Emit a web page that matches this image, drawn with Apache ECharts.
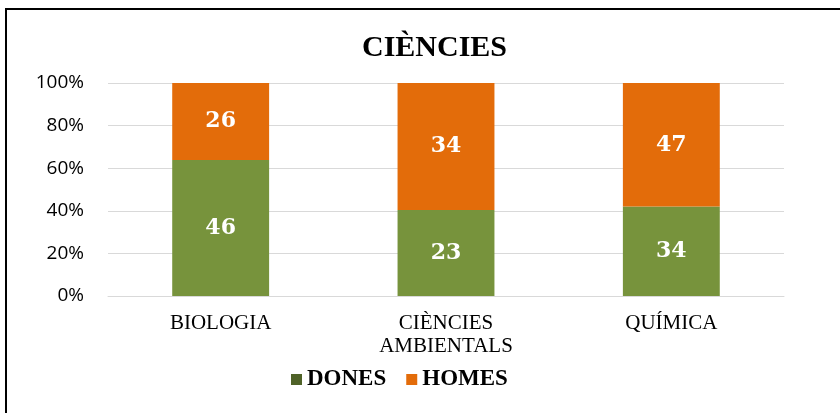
<!DOCTYPE html>
<html>
<head>
<meta charset="utf-8">
<script src="https://cdn.jsdelivr.net/npm/echarts@6/dist/echarts.min.js"></script>
<style>
  html, body { margin: 0; padding: 0; background: #fff; }
  #chart { width: 840px; height: 413px; }
  #frame { position: absolute; left: 5px; top: 8px; width: 900px; height: 500px;
           border: 2px solid #000; pointer-events: none; }
</style>
</head>
<body>
<div id="chart"></div>
<div id="frame"></div>
<script>
  // dades
  var categories = ['BIOLOGIA', 'CIÈNCIES\nAMBIENTALS', 'QUÍMICA'];
  var dones = [46, 23, 34];
  var homes = [26, 34, 47];
  var yTicks = [0, 20, 40, 60, 80, 100];

  // percentatges per a la barra apilada al 100%
  function pct(a, b) {
    var out = [];
    for (var i = 0; i < a.length; i++) {
      out.push({ value: a[i] / (a[i] + b[i]) * 100, count: a[i] });
    }
    return out;
  }

  var serif = '"Liberation Serif", "DejaVu Serif", serif';
  var labelStyle = {
    show: true,
    position: 'inside',
    color: '#fff',
    fontFamily: '"DejaVu Serif", serif',
    fontWeight: 'bold',
    fontSize: 22,
    formatter: function (p) { return p.data.count; }
  };

  var myChart = echarts.init(document.getElementById('chart'));
  var option = {
    animation: false,
    title: {
      text: 'CIÈNCIES',
      left: 357,
      top: 28,
      textStyle: { fontFamily: serif, fontWeight: 'bold', fontSize: 30, color: '#000' }
    },
    legend: {
      bottom: 17,
      left: 286,
      itemWidth: 11,
      itemHeight: 11,
      itemGap: 20,
      icon: 'rect',
      textStyle: { fontFamily: serif, fontWeight: 'bold', fontSize: 23, color: '#000' },
      data: [
        { name: 'DONES', itemStyle: { color: '#4F6228' } },
        { name: 'HOMES', itemStyle: { color: '#E36C0A' } }
      ]
    },
    grid: { left: 108, right: 56, top: 83, bottom: 117 },
    xAxis: {
      type: 'category',
      data: categories,
      axisTick: { show: false },
      axisLine: { lineStyle: { color: '#d9d9d9' } },
      axisLabel: {
        fontFamily: serif, fontSize: 21, color: '#000', margin: 16, lineHeight: 23
      }
    },
    yAxis: {
      type: 'value',
      min: 0,
      max: 100,
      interval: 20,
      axisLine: { show: false },
      splitLine: { lineStyle: { color: '#d9d9d9', width: 1 } },
      axisLabel: {
        fontFamily: '"Open Sans", "Liberation Sans", sans-serif',
        fontSize: 19, color: '#000', margin: 24,
        formatter: function (v) { return yTicks.indexOf(v) >= 0 ? v + '%' : ''; }
      }
    },
    series: [
      {
        name: 'DONES', type: 'bar', stack: 'total', barWidth: '43%',
        itemStyle: { color: '#77933C' },
        label: labelStyle,
        data: pct(dones, homes)
      },
      {
        name: 'HOMES', type: 'bar', stack: 'total', barWidth: '43%',
        itemStyle: { color: '#E36C0A' },
        label: labelStyle,
        data: pct(homes, dones)
      }
    ]
  };
  myChart.setOption(option);
</script>
</body>
</html>
